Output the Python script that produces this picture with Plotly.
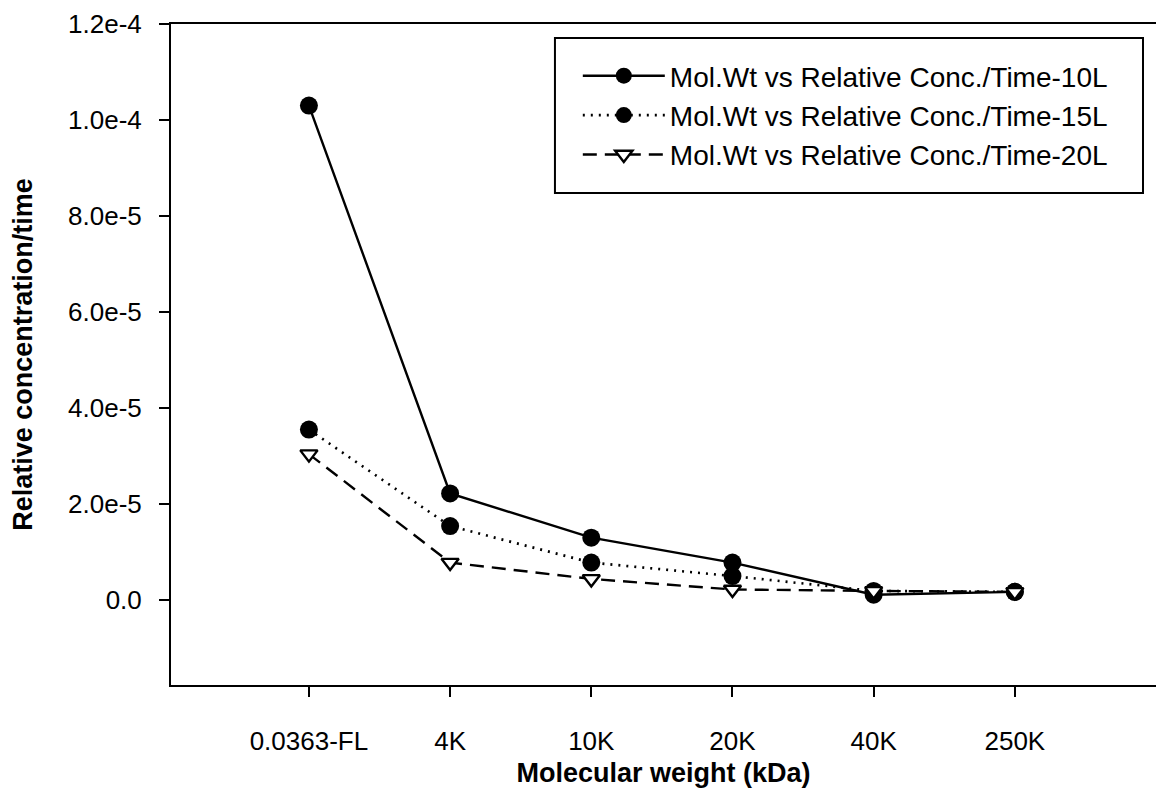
import plotly.graph_objects as go

categories = ["0.0363-FL", "4K", "10K", "20K", "40K", "250K"]
series_names = [
    "Mol.Wt vs Relative Conc./Time-10L",
    "Mol.Wt vs Relative Conc./Time-15L",
    "Mol.Wt vs Relative Conc./Time-20L",
]
vals_10L = [1.03e-4, 2.22e-5, 1.30e-5, 7.8e-6, 1.1e-6, 1.7e-6]
vals_15L = [3.55e-5, 1.54e-5, 7.8e-6, 5.0e-6, 1.9e-6, 1.7e-6]
vals_20L = [3.04e-5, 7.8e-6, 4.4e-6, 2.2e-6, 1.9e-6, 1.7e-6]

y_tickvals = [0.0, 2e-5, 4e-5, 6e-5, 8e-5, 1.0e-4, 1.2e-4]
y_ticktext = ["0.0", "2.0e-5", "4.0e-5", "6.0e-5", "8.0e-5", "1.0e-4", "1.2e-4"]

xpos = list(range(len(categories)))
FONT = "Liberation Sans, Arial, sans-serif"

fig = go.Figure()
fig.add_trace(go.Scatter(
    x=xpos, y=vals_10L, name=series_names[0], mode="lines+markers",
    line=dict(color="black", width=2.4, dash="solid"),
    marker=dict(symbol="circle", size=18, color="black", line=dict(color="black", width=0)),
))
fig.add_trace(go.Scatter(
    x=xpos, y=vals_15L, name=series_names[1], mode="lines+markers",
    line=dict(color="black", width=2.6, dash="2px,6px"),
    marker=dict(symbol="circle", size=18, color="black", line=dict(color="black", width=0)),
))
fig.add_trace(go.Scatter(
    x=xpos, y=vals_20L, name=series_names[2], mode="lines+markers",
    line=dict(color="black", width=2.4, dash="14px,8px"),
    marker=dict(symbol="triangle-down", size=15, color="white", line=dict(color="black", width=2.4)),
))

# legend frame
fig.add_shape(type="rect", xref="paper", yref="paper",
              x0=0.3898, x1=0.9868, y0=0.7443, y1=0.9788,
              line=dict(color="black", width=2), fillcolor="white", layer="below")

fig.update_layout(
    width=1156, height=788,
    margin=dict(l=171, r=0, t=24, b=103, autoexpand=False),
    paper_bgcolor="white", plot_bgcolor="white",
    font=dict(family=FONT, size=26, color="black"),
    showlegend=True,
    legend=dict(
        x=0.413, y=0.8616, xanchor="left", yanchor="middle",
        bgcolor="rgba(0,0,0,0)", borderwidth=0,
        font=dict(family=FONT, size=28, color="black"),
        itemwidth=82, tracegroupgap=0,
    ),
    xaxis=dict(
        range=[-0.977, 6.0], tickmode="array", tickvals=xpos, ticktext=categories,
        showline=True, linecolor="black", linewidth=2, mirror=True,
        ticks="outside", ticklen=10, tickwidth=2, tickcolor="black",
        showgrid=False, zeroline=False, ticklabelstandoff=22,
        tickfont=dict(family=FONT, size=26),
        title=dict(text="<b>Molecular weight (kDa)</b>", font=dict(family=FONT, size=27), standoff=24),
    ),
    yaxis=dict(
        range=[-1.77e-5, 1.2e-4], tickmode="array", tickvals=y_tickvals, ticktext=y_ticktext,
        showline=True, linecolor="black", linewidth=2, mirror=False,
        ticks="outside", ticklen=10, tickwidth=2, tickcolor="black",
        showgrid=False, zeroline=False, ticklabelstandoff=12,
        tickfont=dict(family=FONT, size=26),
        title=dict(text="<b>Relative concentration/time</b>", font=dict(family=FONT, size=27), standoff=28),
    ),
)

fig.write_html("out.html")
